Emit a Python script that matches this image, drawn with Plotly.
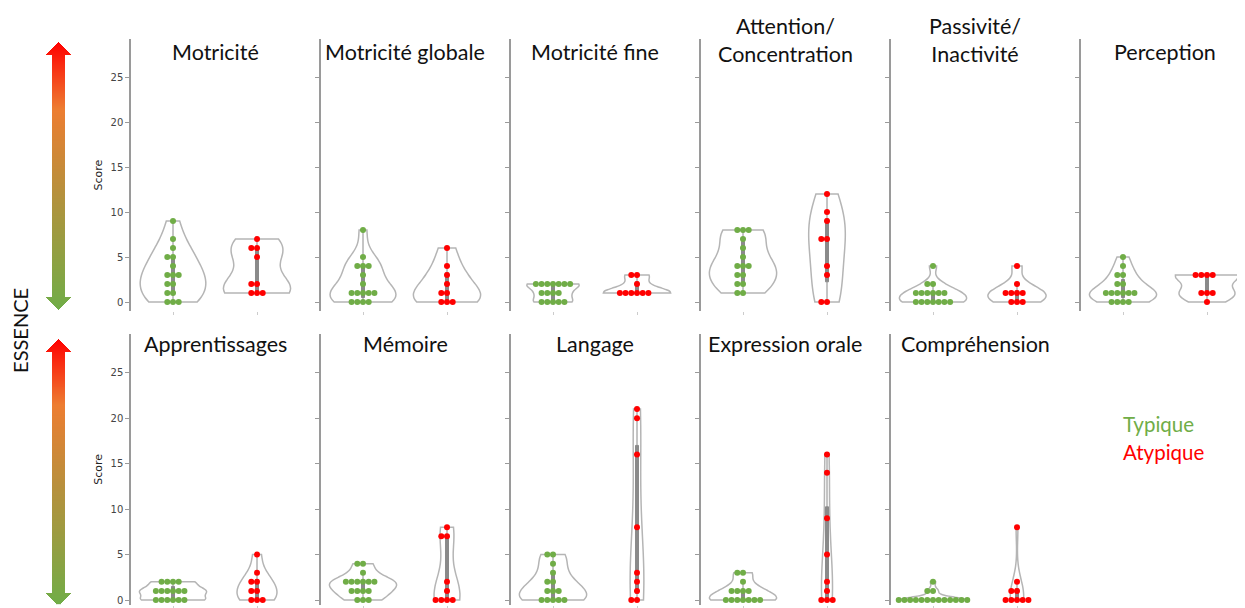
import numpy as np
import plotly.graph_objects as go

# Titres des 11 domaines (ordre de lecture, 6 en haut, 5 en bas)
titres = ["Motricité", "Motricité globale", "Motricité fine", "Attention/<br>Concentration",
          "Passivité/<br>Inactivité", "Perception",
          "Apprentissages", "Mémoire", "Langage", "Expression orale", "Compréhension"]

typique = [
    [9, 7, 6, 5, 5, 4, 3, 3, 3, 2, 2, 1, 1, 0, 0, 0],
    [8, 5, 4, 4, 4, 3, 2, 1, 1, 1, 1, 1, 0, 0, 0, 0],
    [2, 2, 2, 2, 2, 2, 2, 1, 1, 1, 1, 0, 0, 0, 0, 0],
    [8, 8, 8, 7, 6, 5, 4, 4, 4, 3, 3, 2, 2, 1, 1],
    [4, 2, 2, 1, 1, 1, 1, 1, 1, 0, 0, 0, 0, 0, 0, 0],
    [5, 4, 3, 3, 2, 2, 1, 1, 1, 1, 1, 1, 0, 0, 0, 0],
    [2, 2, 2, 2, 1, 1, 1, 1, 1, 1, 0, 0, 0, 0, 0, 0],
    [4, 4, 3, 2, 2, 2, 2, 2, 2, 1, 1, 1, 1, 0, 0, 0],
    [5, 5, 4, 3, 2, 2, 1, 1, 1, 0, 0, 0, 0, 0],
    [3, 3, 2, 1, 1, 1, 1, 0, 0, 0, 0, 0, 0, 0],
    [2, 1, 1, 0, 0, 0, 0, 0, 0, 0, 0, 0, 0, 0, 0, 0],
]
atypique = [
    [7, 6, 6, 5, 2, 2, 1, 1, 1],
    [6, 4, 3, 2, 1, 1, 0, 0, 0],
    [3, 3, 2, 1, 1, 1, 1, 1, 1],
    [12, 10, 9, 7, 7, 4, 3, 0, 0],
    [4, 2, 1, 1, 1, 1, 0, 0, 0],
    [3, 3, 3, 3, 1, 1, 1, 0],
    [5, 3, 2, 2, 1, 1, 0, 0, 0],
    [8, 7, 7, 2, 1, 0, 0, 0, 0],
    [21, 20, 16, 8, 3, 2, 1, 0, 0],
    [16, 14, 9, 5, 2, 1, 0, 0, 0],
    [8, 2, 1, 1, 0, 0, 0, 0, 0],
]
y_ticks = [0, 5, 10, 15, 20, 25]

VERT = "#70AD47"
ROUGE = "#FF0000"
W, H = 1245, 608            # fenêtre
FW, FH = W - 8, H - 8       # figure (marge du <body>)
OFFX, OFFY = 7, 5.5         # décalage mesuré de la figure dans la page
FONT_TITRE = "Lato"

def px_x(p):
    return min(max((p - OFFX) / FW, 0), 1)

def px_y(p):
    return min(max(1 - (p - OFFY) / FH, 0), 1)

def swarm(vals, step=0.068):
    # décalage horizontal des points de même valeur (façon swarmplot)
    xs = []
    seen = {}
    for v in vals:
        k = seen.get(v, 0)
        seen[v] = k + 1
        off = 0 if k == 0 else (-(k + 1) // 2 if k % 2 else k // 2)
        xs.append(off * step)
    return np.array(xs)

def scott(vals):
    v = np.asarray(vals, float)
    return max(np.std(v, ddof=1) * len(v) ** (-0.2), 0.05)

fig = go.Figure()
layout = {}

col_left = [130, 320, 510, 700, 890, 1080]
ax_w = 168
# (haut, bas, pixel du zéro, pixels par unité, centre du titre)
rows = [(37, 310, 301.0, 9.04, 50), (333, 608, 600.5, 9.14, 343)]

for i, titre in enumerate(titres):
    r, c = divmod(i, 6)
    n = i + 1
    xa = "x" if n == 1 else f"x{n}"
    ya = "y" if n == 1 else f"y{n}"
    top, bot, zero, ppu, ty = rows[r]
    bot = min(bot, OFFY + FH)
    yr = [(zero - bot) / ppu, (zero - top) / ppu]
    x0, x1 = col_left[c], col_left[c] + ax_w
    x_hi = 1.5
    if x1 > OFFX + FW:
        x1 = OFFX + FW
        x_hi = -0.5 + 2.0 * (x1 - x0) / ax_w

    for pos, vals, nom in [(0, typique[i], "Typique"), (1, atypique[i], "Atypique")]:
        fig.add_trace(go.Violin(
            y=vals, x0=pos, name=nom, xaxis=xa, yaxis=ya,
            scalegroup=f"g{n}", scalemode="width",
            spanmode="hard", bandwidth=scott(vals), points=False,
            line=dict(color="#b5b5b5", width=1.5), fillcolor="rgba(255,255,255,0)",
            box=dict(visible=True, width=0.045, fillcolor="#8a8a8a",
                     line=dict(color="#8a8a8a", width=1)),
            meanline=dict(visible=False), showlegend=False, hoverinfo="skip",
        ))
    for pos, vals, col in [(0, typique[i], VERT), (1, atypique[i], ROUGE)]:
        fig.add_trace(go.Scatter(
            x=pos + swarm(vals), y=vals, mode="markers", xaxis=xa, yaxis=ya,
            marker=dict(color=col, size=6), showlegend=False,
            hovertemplate="%{y}<extra></extra>",
        ))

    key = n if n > 1 else ""
    layout[f"xaxis{key}"] = dict(
        domain=[px_x(x0), px_x(x1)], anchor=ya, range=[-0.5, x_hi],
        showgrid=False, zeroline=False, showline=False,
        tickvals=[0, 1], ticktext=["", ""], ticks="outside", ticklen=3,
        tickcolor="#cccccc", fixedrange=True,
    )
    layout[f"yaxis{key}"] = dict(
        domain=[px_y(bot), px_y(top)], anchor=xa, range=yr,
        showgrid=False, zeroline=False, showline=True, linecolor="#9a9a9a", linewidth=1.5,
        tickvals=y_ticks, ticks="outside", ticklen=4, tickcolor="#9a9a9a",
        showticklabels=(c == 0), tickfont=dict(family="DejaVu Sans", size=10, color="#444444"),
        title=dict(text="Score" if c == 0 else "", standoff=6,
                   font=dict(family="DejaVu Sans", size=11, color="#222222")),
        fixedrange=True,
    )
    nb_lignes = titre.count("<br>") + 1
    fig.add_annotation(
        text=titre, xref="paper", yref="paper",
        x=px_x(col_left[c] + ax_w / 2), y=px_y(ty - 12.5 * (nb_lignes - 1)),
        xanchor="center", yanchor="middle", showarrow=False,
        font=dict(family=FONT_TITRE, size=21.5, color="#111111"),
    )

# Flèches dégradées (vert -> orange -> rouge) à gauche
ax_x0, ax_x1 = 42, 73
ax_y0, ax_y1 = 36, 605
gx = np.arange(ax_x0, ax_x1) + 0.5
gy = np.arange(ax_y0, ax_y1) + 0.5
Z = np.full((len(gy), len(gx)), np.nan)
cx = 57.5
for t_top, t_bot in [(40, 309), (338, 607)]:
    head = 13
    for yi, yv in enumerate(gy):
        if yv < t_top or yv > t_bot:
            continue
        if yv < t_top + head:
            half = 12.5 * (yv - t_top) / head
        elif yv > t_bot - head:
            half = 12.5 * (t_bot - yv) / head
        else:
            half = 6.0
        m = np.abs(gx - cx) <= half
        Z[yi, m] = (t_bot - yv) / (t_bot - t_top)
fig.add_trace(go.Heatmap(
    x=gx, y=gy, z=Z, xaxis="x12", yaxis="y12", zmin=0, zmax=1, zsmooth=False,
    colorscale=[[0, VERT], [0.45, "#B8903C"], [0.75, "#ED7D31"], [1, ROUGE]],
    showscale=False, hoverinfo="skip",
))
layout["xaxis12"] = dict(domain=[px_x(ax_x0), px_x(ax_x1)], range=[ax_x0, ax_x1], anchor="y12",
                         visible=False, fixedrange=True)
layout["yaxis12"] = dict(domain=[px_y(ax_y1), px_y(ax_y0)], range=[ax_y1, ax_y0], anchor="x12",
                         visible=False, fixedrange=True)

fig.add_annotation(text="ESSENCE", xref="paper", yref="paper", x=px_x(19), y=px_y(330),
                   textangle=-90, showarrow=False, xanchor="center", yanchor="middle",
                   font=dict(family=FONT_TITRE, size=20, color="#111111"))
fig.add_annotation(text="Typique", xref="paper", yref="paper", x=px_x(1120), y=px_y(424),
                   showarrow=False, xanchor="left", yanchor="middle",
                   font=dict(family=FONT_TITRE, size=20.5, color=VERT))
fig.add_annotation(text="Atypique", xref="paper", yref="paper", x=px_x(1120), y=px_y(452),
                   showarrow=False, xanchor="left", yanchor="middle",
                   font=dict(family=FONT_TITRE, size=20.5, color=ROUGE))

fig.update_layout(
    width=FW, height=FH, margin=dict(l=0, r=0, t=0, b=0),
    plot_bgcolor="white", paper_bgcolor="white",
    violinmode="overlay", violingap=0.2, violingroupgap=0, showlegend=False,
    **layout,
)

fig.write_html("out.html")
